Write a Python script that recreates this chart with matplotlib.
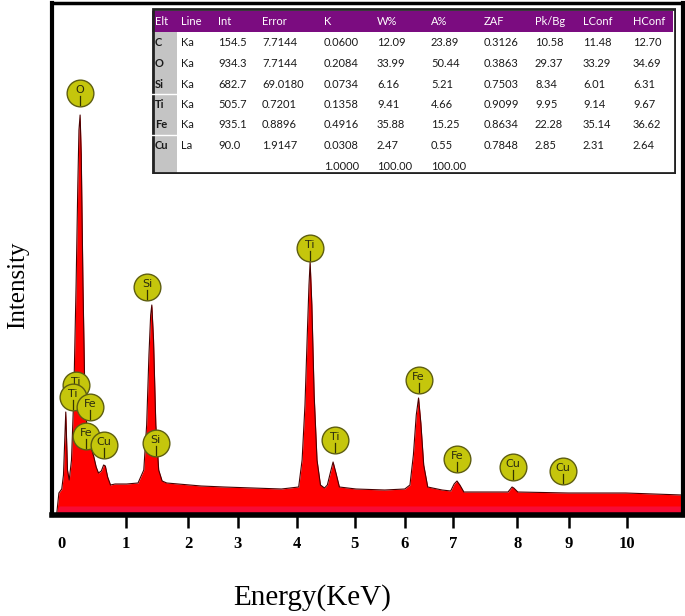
import numpy as np
import matplotlib
matplotlib.use("Agg")
import matplotlib.pyplot as plt
from matplotlib.patches import Rectangle

# ---- spectrum (keV, counts) ----
energy = [0.08, 0.12, 0.17, 0.20, 0.24, 0.27, 0.30, 0.34, 0.38, 0.42, 0.45, 0.47,
          0.49, 0.51, 0.54, 0.57, 0.61, 0.65, 0.69, 0.73, 0.77, 0.81, 0.86, 0.90,
          0.93, 0.97, 1.02, 1.10, 1.30, 1.50, 1.60, 1.65, 1.69, 1.72, 1.74, 1.77,
          1.81, 1.86, 1.92, 2.00, 2.20, 2.60, 3.00, 3.50, 4.00, 4.30, 4.36, 4.41,
          4.45, 4.48, 4.50, 4.53, 4.57, 4.62, 4.68, 4.75, 4.80, 4.86, 4.90, 4.95,
          5.01, 5.30, 5.80, 6.15, 6.24, 6.30, 6.35, 6.39, 6.43, 6.48, 6.55, 6.80,
          6.95, 7.01, 7.06, 7.11, 7.18, 7.60, 7.95, 8.02, 8.05, 8.12, 9.00, 10.00,
          10.98]
counts = [0, 22, 26, 40, 103, 45, 35, 55, 120, 230, 330, 385,
          400, 360, 230, 130, 85, 72, 66, 58, 48, 42, 44, 50,
          49, 38, 30, 31, 31, 32, 45, 90, 160, 200, 210, 175,
          90, 45, 34, 32, 31, 29, 28, 27, 26, 28, 55, 110,
          180, 230, 253, 210, 120, 55, 30, 27, 30, 44, 53, 42,
          28, 26, 25, 26, 30, 60, 100, 117, 92, 50, 28, 25,
          24, 31, 34, 30, 23, 23, 23, 28, 27, 23, 22, 22,
          20]

# ---- peak labels ----
lab_el = ['Ti', 'Ti', 'Fe', 'Fe', 'Cu', 'O', 'Si', 'Si', 'Ti', 'Ti', 'Fe', 'Fe', 'Cu', 'Cu']
lab_e = [0.42, 0.37, 0.66, 0.59, 0.91, 0.49, 1.81, 1.655, 4.49, 4.93, 6.39, 7.06, 8.03, 8.90]
lab_h = [130, 118, 108, 79, 70, 422, 72, 228, 267, 75, 135, 56, 48, 44]

# ---- x tick labels (as printed on the figure) ----
tick_pos = [0.17, 1.29, 2.37, 3.24, 4.27, 5.28, 6.15, 6.99, 8.11, 9.01, 10.02]
tick_lab = ['0', '1', '2', '3', '4', '5', '6', '7', '8', '9', '10']

# ---- quantification table ----
t_cols = ['Elt', 'Line', 'Int', 'Error', 'K', 'W%', 'A%', 'ZAF', 'Pk/Bg', 'LConf', 'HConf']
t_elt = ['C', 'O', 'Si', 'Ti', 'Fe', 'Cu']
t_line = ['Ka', 'Ka', 'Ka', 'Ka', 'Ka', 'La']
t_int = [154.5, 934.3, 682.7, 505.7, 935.1, 90.0]
t_err = [7.7144, 7.7144, 69.0180, 0.7201, 0.8896, 1.9147]
t_k = [0.0600, 0.2084, 0.0734, 0.1358, 0.4916, 0.0308]
t_w = [12.09, 33.99, 6.16, 9.41, 35.88, 2.47]
t_a = [23.89, 50.44, 5.21, 4.66, 15.25, 0.55]
t_zaf = [0.3126, 0.3863, 0.7503, 0.9099, 0.8634, 0.7848]
t_pkbg = [10.58, 29.37, 8.34, 9.95, 22.28, 2.85]
t_lconf = [11.48, 33.29, 6.01, 9.14, 35.14, 2.31]
t_hconf = [12.70, 34.69, 6.31, 9.67, 36.62, 2.64]
t_total = ['', '', '', '', '1.0000', '100.00', '100.00', '', '', '', '']

W, H = 685, 616
fig = plt.figure(figsize=(W / 100, H / 100), dpi=100)
ax = fig.add_axes([52 / W, (H - 515) / H, 631 / W, 512 / H])

ax.fill_between(energy, counts, color='#ff0000', lw=0, zorder=1)
ax.fill_between(energy, np.minimum(counts, 9), color='#f2135a', lw=0, alpha=0.6, zorder=1)
ax.plot(energy, counts, color='#4a0000', lw=0.8, zorder=2)

for i, (el, e, h) in enumerate(zip(lab_el, lab_e, lab_h)):
    z = 5 + i
    ax.scatter([e], [h], s=370, facecolor='#c5c60c', edgecolor='#5e5e10', lw=1.0, zorder=z)
    ax.plot([e, e], [h - 3, h - 12], color='#333300', lw=0.9, zorder=z)
    ax.text(e, h + 3, el, ha='center', va='center', fontsize=8, color='#2a2a10',
            family='DejaVu Sans', zorder=z)

ax.set_xlim(0, 11)
ax.set_ylim(0, 512)
ax.set_yticks([])
ax.set_xticks(tick_pos)
ax.set_xticklabels(tick_lab, family='Liberation Serif', fontweight='bold', fontsize=12)
ax.tick_params(axis='x', direction='out', length=9, width=1.8, pad=6)
ax.xaxis.get_major_ticks()[0].tick1line.set_visible(False)
ax.spines['left'].set_linewidth(3)
ax.spines['right'].set_linewidth(3)
ax.spines['top'].set_linewidth(2.5)
ax.spines['bottom'].set_linewidth(4)

fig.text(312 / W, 1 - 598 / H, 'Energy(KeV)', ha='center', va='center',
         family='Liberation Serif', fontsize=21)
fig.text(18 / W, 1 - 285 / H, 'Intensity', ha='center', va='center', rotation=90,
         family='Liberation Serif', fontsize=18)

# ---- table inset ----
tw, th = 524, 166
tax = fig.add_axes([152 / W, (H - 8 - th) / H, tw / W, th / H])
tax.set_xlim(0, tw)
tax.set_ylim(th, 0)
tax.axis('off')
tax.add_patch(Rectangle((0, 0), tw, th, facecolor='white', edgecolor='none'))
tax.add_patch(Rectangle((0, 3), tw - 3, 21, facecolor='#7b0c80', edgecolor='none'))
tax.add_patch(Rectangle((0, 24), 25, th - 24, facecolor='#c4c4c4', edgecolor='none'))
for yy in [86, 127]:
    tax.plot([0, 25], [yy, yy], color='white', lw=1)
tax.add_patch(Rectangle((1, 1), tw - 2, th - 2, facecolor='none', edgecolor='#222222', lw=2))

col_x = [3, 29, 66, 110, 172, 225, 279, 332, 383, 431, 481]
fs = 8
for cx, c in zip(col_x, t_cols):
    tax.text(cx, 13.5, c, ha='left', va='center', color='white', fontsize=fs, family='Lato')

row_y = [35, 55.5, 76, 96.5, 117, 137.5, 158]
for r in range(len(t_elt)):
    vals = [t_elt[r], t_line[r], f'{t_int[r]:.1f}', f'{t_err[r]:.4f}', f'{t_k[r]:.4f}',
            f'{t_w[r]:.2f}', f'{t_a[r]:.2f}', f'{t_zaf[r]:.4f}', f'{t_pkbg[r]:.2f}',
            f'{t_lconf[r]:.2f}', f'{t_hconf[r]:.2f}']
    for j, (cx, v) in enumerate(zip(col_x, vals)):
        tax.text(cx, row_y[r], v, ha='left', va='center', color='#1a1a1a', fontsize=fs,
                 family='Lato', fontweight='bold' if j == 0 else 'normal')
for cx, v in zip(col_x, t_total):
    if v:
        tax.text(cx, row_y[-1], v, ha='left', va='center', color='#1a1a1a', fontsize=fs,
                 family='Lato')

fig.savefig('out.png', dpi=100)
